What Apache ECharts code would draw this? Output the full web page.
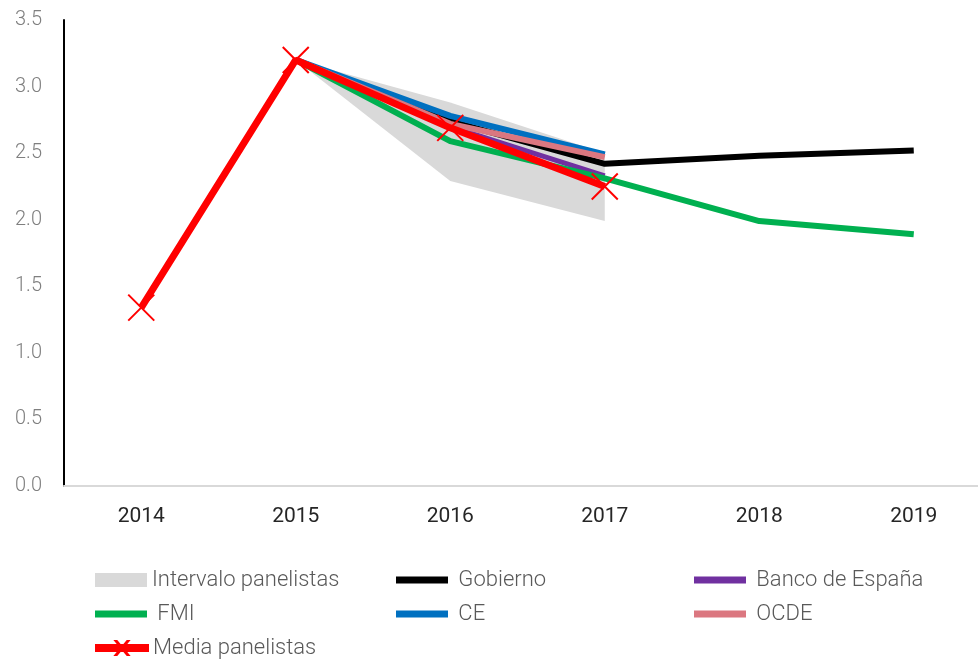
<!DOCTYPE html>
<html><head><meta charset="utf-8">
<script src="https://cdn.jsdelivr.net/npm/echarts@6/dist/echarts.min.js"></script>
<style>html,body{margin:0;padding:0;background:#fff;overflow:hidden;width:978px;height:660px}#c{width:991px;height:660px}</style>
</head><body><div id="c"></div>
<script>
const years = ['2014','2015','2016','2017','2018','2019'];
const yTicks = [0, 0.5, 1, 1.5, 2, 2.5, 3, 3.5];
const intervalLow  = ['-', 3.2, 2.29, 1.99, '-', '-'];
const intervalHigh = ['-', 3.2, 2.88, 2.50, '-', '-'];
const gobierno = ['-', 3.2, 2.74, 2.42, 2.48, 2.52];
const bancoEspana = ['-', 3.2, 2.70, 2.33, '-', '-'];
const fmi = ['-', 3.2, 2.59, 2.31, 1.99, 1.89];
const ce = ['-', 3.2, 2.78, 2.49, '-', '-'];
const ocde = ['-', 3.2, 2.72, 2.47, '-', '-'];
const mediaPanelistas = [1.34, 3.2, 2.69, 2.25, '-', '-'];

const intervalDiff = intervalLow.map((v, i) => v === '-' ? '-' : +(intervalHigh[i] - v).toFixed(3));

const FONT = 'Roboto';
const crossPath = 'path://M0,0L10,10M10,0L0,10';
const mediaIcon = 'path://M0,5H52V11H0Z M19.5,1L20.8,1L32.5,15L31.2,15Z M31.2,1L32.5,1L20.8,15L19.5,15Z';
const chart = echarts.init(document.getElementById('c'), null, {renderer: 'canvas'});
const legendText = {fontFamily: FONT, fontSize: 22, fontWeight: 300, color: '#595959', lineHeight: 24};
function leg(name, left, top, icon, h, space) {
  return {left, top, padding: 0, itemWidth: 52, itemHeight: h, itemGap: 0,
    textStyle: legendText, formatter: n => (space ? ' ' : '') + n,
    data: [{name, icon}]};
}
function lineSeries(name, data, color, width, z) {
  return {name, type: 'line', data, z, symbol: 'none', connectNulls: false,
    lineStyle: {color, width, join: 'round'}, itemStyle: {color}};
}
chart.setOption({
  animation: false,
  grid: {left: 64, right: 0, top: 20, bottom: 174, containLabel: false},
  xAxis: {
    type: 'category', data: years, boundaryGap: true,
    axisLine: {lineStyle: {color: '#d9d9d9', width: 2}},
    axisTick: {show: false},
    axisLabel: {color: '#262626', fontFamily: FONT, fontSize: 21, margin: 20}
  },
  yAxis: {
    type: 'value', min: yTicks[0], max: yTicks[yTicks.length - 1], interval: 0.5,
    axisLine: {show: true, lineStyle: {color: '#000', width: 2}},
    axisTick: {show: false}, splitLine: {show: false},
    axisLabel: {color: '#7f7f7f', fontFamily: FONT, fontSize: 20, fontWeight: 300, margin: 22,
      formatter: v => v.toFixed(1)}
  },
  legend: [
    leg('Intervalo panelistas', 95, 568, 'rect', 14, false),
    leg('FMI', 95, 602, 'rect', 7, true),
    leg('Media panelistas', 95, 636, mediaIcon, 16, false),
    leg('Gobierno', 396, 568, 'rect', 7, true),
    leg('CE', 396, 602, 'rect', 7, true),
    leg('Banco de España', 694, 568, 'rect', 7, true),
    leg('OCDE', 694, 602, 'rect', 7, true)
  ],
  series: [
    {name: 'intervalBase', type: 'line', stack: 'band', data: intervalLow, symbol: 'none',
      lineStyle: {opacity: 0}, z: 1, silent: true},
    {name: 'Intervalo panelistas', type: 'line', stack: 'band', data: intervalDiff, symbol: 'none',
      lineStyle: {opacity: 0}, areaStyle: {color: '#d9d9d9', opacity: 1}, itemStyle: {color: '#d9d9d9'}, z: 1},
    lineSeries('Gobierno', gobierno, '#000000', 6, 2),
    lineSeries('Banco de España', bancoEspana, '#7030a0', 5, 3),
    lineSeries('FMI', fmi, '#00b050', 6, 4),
    lineSeries('CE', ce, '#0070c0', 6, 5),
    lineSeries('OCDE', ocde, '#db7780', 6, 6),
    {name: 'Media panelistas', type: 'line', data: mediaPanelistas, z: 7,
      symbol: crossPath, symbolSize: 26, showAllSymbol: true,
      lineStyle: {color: '#ff0000', width: 7},
      itemStyle: {color: '#ff0000', borderColor: '#ff0000', borderWidth: 2}}
  ]
});
</script></body></html>
